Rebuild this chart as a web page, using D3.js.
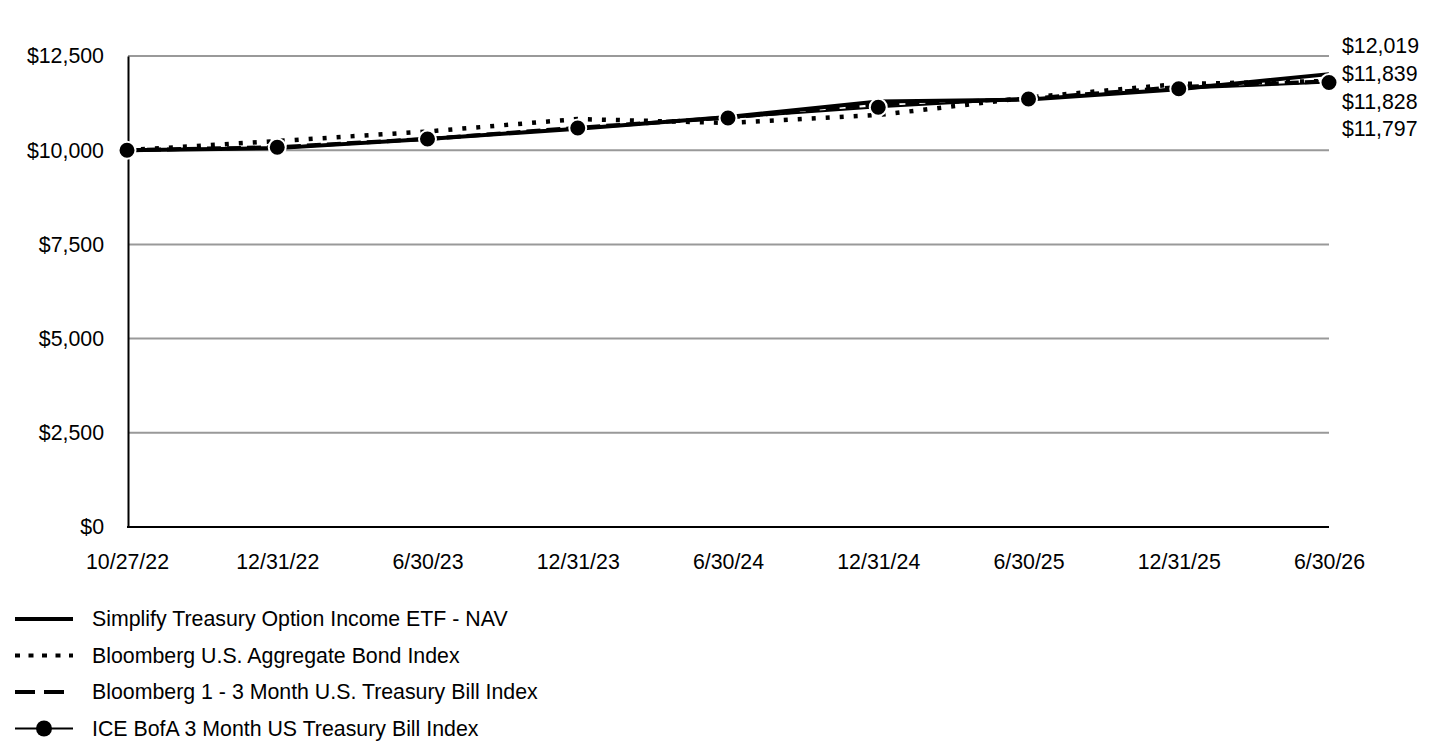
<!DOCTYPE html>
<html>
<head>
<meta charset="utf-8">
<script src="https://cdn.jsdelivr.net/npm/d3@7"></script>
<style>
  html, body { margin: 0; padding: 0; background: #fff; }
  svg { display: block; font-family: "Liberation Sans", Arial, sans-serif; }
</style>
</head>
<body>
<svg id="chart" width="1440" height="744"></svg>
<script>
// ---- data ----
const categories = ["10/27/22","12/31/22","6/30/23","12/31/23","6/30/24","12/31/24","6/30/25","12/31/25","6/30/26"];
const navValues   = [10000, 10055, 10297, 10570, 10880, 11290, 11345, 11620, 12019];
const aggValues   = [10000, 10244, 10496, 10828, 10722, 10934, 11398, 11757, 11839];
const tbill13Values = [10000, 10080, 10300, 10595, 10865, 11213, 11365, 11677, 11828];
const iceValues   = [10000, 10077, 10297, 10589, 10855, 11139, 11359, 11630, 11797];
const yTicks = [0, 2500, 5000, 7500, 10000, 12500];
const seriesNames = [
  "Simplify Treasury Option Income ETF - NAV",
  "Bloomberg U.S. Aggregate Bond Index",
  "Bloomberg 1 - 3 Month U.S. Treasury Bill Index",
  "ICE BofA 3 Month US Treasury Bill Index"
];

const series = [
  { name: seriesNames[0], values: navValues, type: "solid" },
  { name: seriesNames[1], values: aggValues, type: "dotted" },
  { name: seriesNames[2], values: tbill13Values, type: "dashed" },
  { name: seriesNames[3], values: iceValues, type: "marker" }
];

const styles = {
  solid:  { width: 4, dash: null },
  dotted: { width: 4.5, dash: "4,10" },
  dashed: { width: 4, dash: "14,6" },
  marker: { width: 2, dash: null }
};

const svg = d3.select("#chart");
const fontSize = 21.33;
const fontFam = "'Liberation Sans', Arial, sans-serif";

const x = d3.scalePoint().domain(categories).range([127, 1329]);
const y = d3.scaleLinear().domain([0, 12500]).range([527, 56]);
const fmt = v => "$" + d3.format(",")(v);

// gridlines
svg.append("g")
  .selectAll("line")
  .data(yTicks.filter(d => d > 0))
  .join("line")
  .attr("x1", 128).attr("x2", 1329)
  .attr("y1", d => y(d)).attr("y2", d => y(d))
  .attr("stroke", "#999").attr("stroke-width", 2);

// y axis
const yAxis = svg.append("g")
  .attr("transform", "translate(128,0)")
  .call(d3.axisLeft(y).tickValues(yTicks).tickFormat(fmt).tickSize(0).tickSizeOuter(0).tickPadding(24));
yAxis.select(".domain").attr("stroke", "#000").attr("stroke-width", 2);
yAxis.selectAll("text").attr("font-size", fontSize).attr("fill", "#000")
  .attr("font-family", fontFam);

// x axis
const xAxis = svg.append("g")
  .attr("transform", "translate(0,527)")
  .call(d3.axisBottom(x).tickSize(0).tickSizeOuter(0).tickPadding(27));
xAxis.select(".domain").attr("stroke", "#000").attr("stroke-width", 2)
  .attr("d", `M${x.range()[0]},0H${x.range()[1]}`);
xAxis.selectAll("text").attr("font-size", fontSize).attr("fill", "#000")
  .attr("font-family", fontFam);

// lines
const line = d3.line()
  .x((d, i) => x(categories[i]))
  .y(d => y(d));

series.forEach(s => {
  const st = styles[s.type];
  svg.append("path")
    .datum(s.values)
    .attr("d", line)
    .attr("fill", "none")
    .attr("stroke", "#000")
    .attr("stroke-width", st.width)
    .attr("stroke-dasharray", st.dash)
    .attr("stroke-linejoin", "round");
});

// markers
const ice = series[3];
svg.append("g")
  .selectAll("circle")
  .data(ice.values)
  .join("circle")
  .attr("cx", (d, i) => x(categories[i]))
  .attr("cy", d => y(d))
  .attr("r", 8.5)
  .attr("fill", "#000")
  .attr("stroke", "#fff")
  .attr("stroke-width", 2);

// end labels (stacked)
const endVals = series.map(s => s.values[s.values.length - 1]).sort((a, b) => b - a);
svg.append("g")
  .selectAll("text")
  .data(endVals)
  .join("text")
  .attr("x", 1342)
  .attr("y", (d, i) => 46 + i * 27.6)
  .attr("dy", "0.35em")
  .attr("font-size", fontSize)
  .text(d => fmt(d));

// legend
const legend = svg.append("g");
series.forEach((s, i) => {
  const ly = 619 + i * 36.5;
  const g = legend.append("g");
  if (s.type === "marker") {
    g.append("line").attr("x1", 15).attr("x2", 73).attr("y1", ly).attr("y2", ly)
      .attr("stroke", "#000").attr("stroke-width", 2);
    g.append("circle").attr("cx", 44).attr("cy", ly).attr("r", 8).attr("fill", "#000");
  } else {
    const dash = s.type === "dotted" ? "5,8.5" : (s.type === "dashed" ? "20,9" : null);
    g.append("line").attr("x1", 15).attr("x2", 73).attr("y1", ly).attr("y2", ly)
      .attr("stroke", "#000").attr("stroke-width", 4)
      .attr("stroke-dasharray", dash);
  }
  g.append("text").attr("x", 92).attr("y", ly).attr("dy", "0.35em")
    .attr("font-size", fontSize).text(s.name);
});
</script>
</body>
</html>
